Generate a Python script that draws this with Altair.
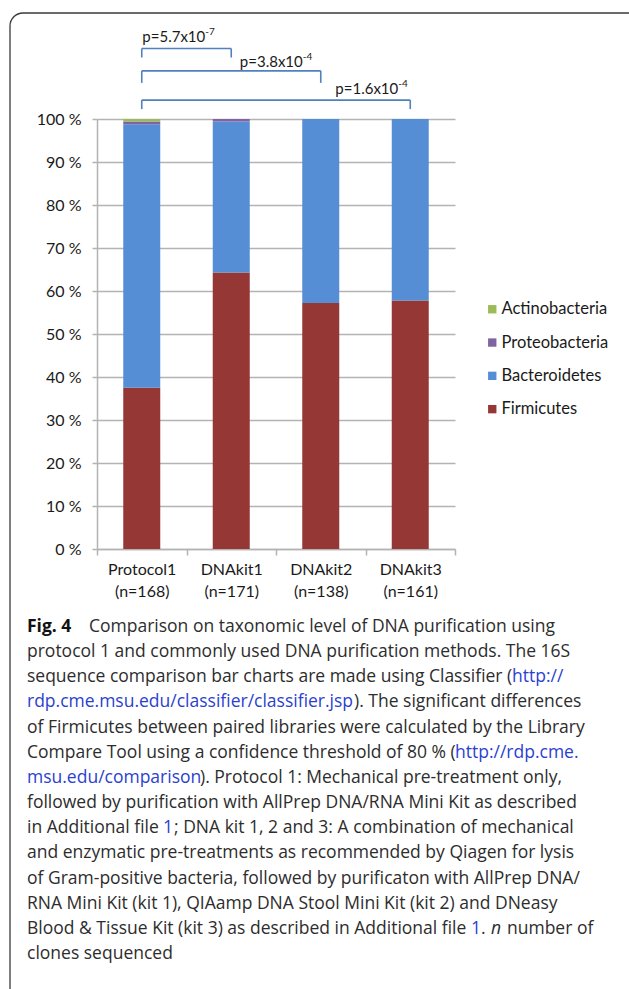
import altair as alt
import pandas as pd

# Clone libraries and the number of clones sequenced in each
groups = ["Protocol1", "DNAkit1", "DNAkit2", "DNAkit3"]
clone_counts = [168, 171, 138, 161]

# Phylum shares per library (%), listed from the bottom of each stack upward
phyla = ["Firmicutes", "Bacteroidetes", "Proteobacteria", "Actinobacteria"]
firmicutes = [37.5, 64.3, 57.2, 57.8]
bacteroidetes = [61.3, 35.1, 42.8, 42.2]
proteobacteria = [0.6, 0.6, 0.0, 0.0]
actinobacteria = [0.6, 0.0, 0.0, 0.0]

legend_order = ["Actinobacteria", "Proteobacteria", "Bacteroidetes", "Firmicutes"]
legend_colors = ["#9BBB59", "#8064A2", "#558ED5", "#953735"]

y_ticks = list(range(0, 101, 10))

# Pairwise Firmicutes comparisons
pair_from = ["Protocol1", "Protocol1", "Protocol1"]
pair_to = ["DNAkit1", "DNAkit2", "DNAkit3"]
p_mantissa = ["5.7", "3.8", "1.6"]
p_exponent = ["-7", "-4", "-4"]
bracket_level = [116.4, 111.2, 104.4]
bracket_foot = [114.3, 108.4, 102.3]
label_level = [119.1, 113.3, 107.0]
label_shift = [-26, -18, -12]

CHART_FONT = "Lato"
TEXT_COLOR = "#1a1a1a"
GRID_COLOR = "#b3b3b3"
BRACKET_COLOR = "#4F81BD"
LINK = "#2b3fd0"
CAPTION = "#2d2d2d"
CAPTION_FONT = "Open Sans"
CAPTION_SIZE = 17.5

group_labels = [f"{g}\n(n={n})" for g, n in zip(groups, clone_counts)]
label_of = dict(zip(groups, group_labels))

series = [firmicutes, bacteroidetes, proteobacteria, actinobacteria]
rows = []
for i, lab in enumerate(group_labels):
    for j, (ph, vals) in enumerate(zip(phyla, series)):
        rows.append({"group": lab, "phylum": ph, "share": vals[i], "stack_order": j})
bars_df = pd.DataFrame(rows)

x_scale = alt.Scale(domain=group_labels, paddingInner=0, paddingOuter=0)
y_scale = alt.Scale(domain=[0, 100], nice=False)

bars = alt.Chart(bars_df).mark_bar(size=37).encode(
    x=alt.X(
        "group:N",
        scale=x_scale,
        sort=group_labels,
        axis=alt.Axis(
            title=None,
            labelAngle=0,
            labelExpr="datum.label ? split(datum.label, '\\n') : ''",
            labelFont=CHART_FONT,
            labelFontSize=16,
            labelLineHeight=22,
            labelColor=TEXT_COLOR,
            labelPadding=6,
            tickBand="extent",
            tickSize=6,
            tickColor=GRID_COLOR,
            tickWidth=1.5,
            domainColor=GRID_COLOR,
            domainWidth=1.5,
            grid=False,
        ),
    ),
    y=alt.Y(
        "share:Q",
        stack="zero",
        scale=y_scale,
        axis=alt.Axis(
            title=None,
            values=y_ticks,
            labelExpr="datum.value + ' %'",
            labelFont=CHART_FONT,
            labelFontSize=16,
            labelColor=TEXT_COLOR,
            labelPadding=11,
            tickSize=5,
            tickColor=GRID_COLOR,
            tickWidth=1.5,
            domainColor=GRID_COLOR,
            domainWidth=1.5,
            grid=True,
            gridColor=GRID_COLOR,
            gridWidth=1.5,
        ),
    ),
    color=alt.Color(
        "phylum:N",
        scale=alt.Scale(domain=legend_order, range=legend_colors),
        legend=alt.Legend(
            title=None,
            orient="none",
            legendX=387,
            legendY=182,
            symbolType="square",
            symbolSize=70,
            symbolStrokeWidth=0,
            labelFont=CHART_FONT,
            labelFontSize=16.5,
            labelColor=TEXT_COLOR,
            labelOffset=1,
            rowPadding=16.3,
            padding=0,
        ),
    ),
    order=alt.Order("stack_order:Q", sort="ascending"),
)

# Significance brackets
span_df = pd.DataFrame({
    "g_from": [label_of[g] for g in pair_from],
    "g_to": [label_of[g] for g in pair_to],
    "level": bracket_level,
})
spans = alt.Chart(span_df).mark_rule(color=BRACKET_COLOR, strokeWidth=1.6).encode(
    x=alt.X("g_from:N", scale=x_scale),
    x2="g_to:N",
    y=alt.Y("level:Q", scale=y_scale),
)

leg_rows = []
for f, t, lv, ft in zip(pair_from, pair_to, bracket_level, bracket_foot):
    leg_rows.append({"g": label_of[f], "top": lv, "bottom": ft})
    leg_rows.append({"g": label_of[t], "top": lv, "bottom": ft})
legs = alt.Chart(pd.DataFrame(leg_rows)).mark_rule(color=BRACKET_COLOR, strokeWidth=1.6).encode(
    x=alt.X("g:N", scale=x_scale),
    y=alt.Y("top:Q", scale=y_scale),
    y2="bottom:Q",
)

p_layers = []
for t, m, e, lv, sh in zip(pair_to, p_mantissa, p_exponent, label_level, label_shift):
    one = pd.DataFrame({"g": [label_of[t]], "lv": [lv], "main": [f"p={m}x10"], "sup": [e]})
    base = alt.Chart(one).encode(
        x=alt.X("g:N", scale=x_scale),
        y=alt.Y("lv:Q", scale=y_scale),
    )
    p_layers.append(
        base.mark_text(align="right", baseline="middle", dx=sh, font=CHART_FONT,
                       fontSize=15, color=TEXT_COLOR).encode(text="main:N")
    )
    p_layers.append(
        base.mark_text(align="left", baseline="middle", dx=sh, dy=-5, font=CHART_FONT,
                       fontSize=10, color=TEXT_COLOR).encode(text="sup:N")
    )

# Figure frame
frame = alt.Chart(pd.DataFrame({"k": [0]})).mark_rect(
    fill=None, stroke="#3a3a3a", strokeWidth=1.3, cornerRadius=13
).encode(
    x=alt.value(-87), x2=alt.value(600),
    y=alt.value(-106), y2=alt.value(940),
)

# Caption, line by line: (text, x, color, weight, style)
caption_lines = [
    [("Fig. 4", -70, "#111111", "bold", "normal"),
     ("Comparison on taxonomic level of DNA purification using", -8, CAPTION, "normal", "normal")],
    [("protocol 1 and commonly used DNA purification methods. The 16S", -70, CAPTION, "normal", "normal")],
    [("sequence comparison bar charts are made using Classifier (", -70, CAPTION, "normal", "normal"),
     ("http://", 415, LINK, "normal", "normal")],
    [("rdp.cme.msu.edu/classifier/classifier.jsp", -70, LINK, "normal", "normal"),
     ("). The significant differences", 257, CAPTION, "normal", "normal")],
    [("of Firmicutes between paired libraries were calculated by the Library", -70, CAPTION, "normal", "normal")],
    [("Compare Tool using a confidence threshold of 80 % (", -70, CAPTION, "normal", "normal"),
     ("http://rdp.cme.", 358, LINK, "normal", "normal")],
    [("msu.edu/comparison", -70, LINK, "normal", "normal"),
     ("). Protocol 1: Mechanical pre-treatment only,", 103, CAPTION, "normal", "normal")],
    [("followed by purification with AllPrep DNA/RNA Mini Kit as described", -70, CAPTION, "normal", "normal")],
    [("in Additional file", -70, CAPTION, "normal", "normal"),
     ("1", 66, LINK, "normal", "normal"),
     ("; DNA kit 1, 2 and 3: A combination of mechanical", 77, CAPTION, "normal", "normal")],
    [("and enzymatic pre-treatments as recommended by Qiagen for lysis", -70, CAPTION, "normal", "normal")],
    [("of Gram-positive bacteria, followed by purificaton with AllPrep DNA/", -70, CAPTION, "normal", "normal")],
    [("RNA Mini Kit (kit 1), QIAamp DNA Stool Mini Kit (kit 2) and DNeasy", -70, CAPTION, "normal", "normal")],
    [("Blood & Tissue Kit (kit 3) as described in Additional file", -70, CAPTION, "normal", "normal"),
     ("1", 374, LINK, "normal", "normal"),
     (".", 384, CAPTION, "normal", "normal"),
     ("n", 394, CAPTION, "normal", "italic"),
     ("number of", 410, CAPTION, "normal", "normal")],
    [("clones sequenced", -70, CAPTION, "normal", "normal")],
]
CAPTION_TOP = 508
CAPTION_STEP = 25.15

caption_layers = []
for i, line in enumerate(caption_lines):
    for text, x, color, weight, style in line:
        caption_layers.append(
            alt.Chart(pd.DataFrame({"t": [text]})).mark_text(
                align="left", baseline="middle", font=CAPTION_FONT, fontSize=CAPTION_SIZE,
                color=color, fontWeight=weight, fontStyle=style,
            ).encode(
                text="t:N",
                x=alt.value(x),
                y=alt.value(CAPTION_TOP + CAPTION_STEP * i),
            )
        )

chart = alt.layer(frame, bars, spans, legs, *p_layers, *caption_layers).properties(
    width=358,
    height=430,
    autosize=alt.AutoSizeParams(type="none"),
    padding={"left": 97, "top": 119, "right": 174, "bottom": 440},
    background="white",
).configure_view(stroke=None)

chart.save("out.html", embed_options={"renderer": "svg", "actions": False})
